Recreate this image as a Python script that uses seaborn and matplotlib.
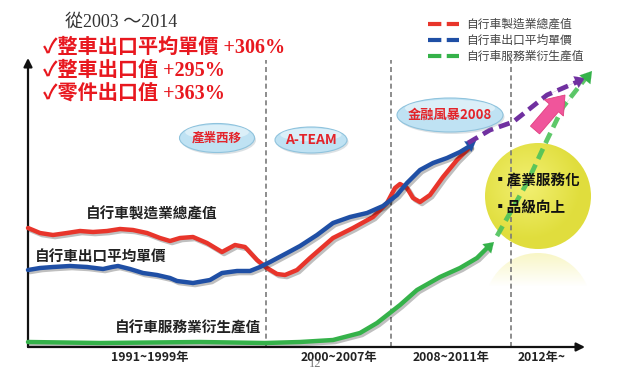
import numpy as np
import pandas as pd
import matplotlib
matplotlib.use("Agg")
import matplotlib.pyplot as plt
import matplotlib.patheffects as pe
from matplotlib.patches import Ellipse, Circle, FancyArrow
from matplotlib.lines import Line2D
import seaborn as sns

# ---------------- data (position along time axis, relative value) ----------------
mfg_x = [0, 12, 25, 39, 52, 65, 79, 92, 105, 119, 132, 142, 152, 165, 179, 194, 207, 217,
         229, 239, 249, 257, 269, 282, 305, 325, 345, 359, 367, 372, 379, 385, 392, 402,
         415, 429, 442]
mfg_y = [119, 114, 112, 114, 116, 115, 116, 118, 117, 114, 109, 106, 109, 110, 104, 95, 102, 100,
         87, 79, 73, 72, 77, 89, 109, 119, 130, 144, 159, 163, 159, 149, 145, 152,
         170, 187, 200]
price_x = [0, 12, 25, 42, 59, 75, 84, 90, 102, 115, 129, 142, 149, 165, 182, 194, 209, 222,
           232, 242, 259, 272, 289, 305, 322, 339, 355, 369, 379, 392, 405, 419, 432, 442]
price_y = [77, 79, 80, 81, 80, 78, 80, 81, 78, 74, 72, 69, 66, 64, 67, 74, 76, 76,
           80, 85, 94, 101, 112, 124, 130, 134, 141, 152, 164, 177, 184, 189, 195, 201]
svc_x = [0, 72, 172, 237, 272, 305, 332, 349, 372, 389, 412, 432, 449, 460]
svc_y = [5, 4, 5, 4, 5, 7, 14, 24, 42, 57, 70, 79, 89, 100]
# projected trends after 2012
svc_proj_x = [469, 499, 519, 535, 557]
svc_proj_y = [111, 164, 207, 240, 268]
mfg_proj_x = [440, 462, 485, 519, 549]
mfg_proj_y = [204, 217, 225, 252, 265]

period_bounds = [238, 363, 483]
period_labels = ["1991~1999年", "2000~2007年", "2008~2011年", "2012年~"]
period_centers = [122, 311, 423, 514]

series_names = ["自行車製造業總產值", "自行車出口平均單價", "自行車服務業衍生產值"]
series_colors = ["#e8352b", "#1f4fa5", "#35b24a"]

headline = "從2003 ～2014"
highlights = ["✓整車出口平均單價 +306%", "✓整車出口值 +295%", "✓零件出口值 +363%"]
bubbles = ["產業西移", "A-TEAM", "金融風暴2008"]
circle_lines = ["▪產業服務化", "▪品級向上"]

# ---------------- figure ----------------
sns.set_style("white")
plt.rcParams["font.family"] = ["Noto Sans CJK TC", "DejaVu Sans"]

fig = plt.figure(figsize=(6.18, 3.86), dpi=100)
ax = fig.add_axes([0, 0, 1, 1])
ax.set_xlim(-28, 590)
ax.set_ylim(-39, 347)
ax.axis("off")

shadow = [pe.SimpleLineShadow(offset=(1.5, -1.5), alpha=0.25, shadow_color="k"), pe.Normal()]

# yellow circle with gradient + reflection
cx, cy, r = 510, 151, 53
gx = np.linspace(-1, 1, 200)
GX, GY = np.meshgrid(gx, gx)
rad = np.clip(np.sqrt((GX + 0.2) ** 2 + (GY - 0.2) ** 2), 0, 1)
c_in = np.array([0.95, 0.94, 0.45])
c_out = np.array([0.88, 0.87, 0.24])
img = c_in[None, None, :] * (1 - rad[..., None]) + c_out[None, None, :] * rad[..., None]
circ = Circle((cx, cy), r, transform=ax.transData, facecolor="none", edgecolor="none")
ax.add_patch(circ)
im = ax.imshow(img, extent=[cx - r, cx + r, cy - r, cy + r], origin="lower",
               aspect="auto", zorder=1)
im.set_clip_path(circ)

ry = cy - 2 * r - 4
refl = np.ones((100, 10, 4))
refl[..., 0:3] = [0.95, 0.93, 0.55]
alpha = np.linspace(0.0, 0.55, 100)
alpha = np.clip((alpha - 0.2) / 0.35, 0, 1) * 0.5
refl[..., 3] = alpha[:, None]
rcirc = Circle((cx, ry), r, transform=ax.transData, facecolor="none", edgecolor="none")
ax.add_patch(rcirc)
im2 = ax.imshow(refl, extent=[cx - r, cx + r, ry, ry + r], origin="lower",
                aspect="auto", zorder=1)
im2.set_clip_path(rcirc)

# period boundaries
for b in period_bounds:
    ax.plot([b, b], [0, 287], color="#7a7a7a", lw=1.2, dashes=(3, 2), zorder=2)

# axes arrows
ax.annotate("", xy=(0, 289), xytext=(0, 0),
            arrowprops=dict(arrowstyle="-|>,head_length=0.5,head_width=0.25", color="#111", lw=1.6,
                            shrinkA=0, shrinkB=0), zorder=3)
ax.annotate("", xy=(557, 0), xytext=(0, 0),
            arrowprops=dict(arrowstyle="-|>,head_length=0.5,head_width=0.25", color="#111", lw=1.6,
                            shrinkA=0, shrinkB=0), zorder=3)

# curves
df_mfg = pd.DataFrame({"x": mfg_x, "y": mfg_y})
df_price = pd.DataFrame({"x": price_x, "y": price_y})
df_svc = pd.DataFrame({"x": svc_x, "y": svc_y})
for df, col in [(df_svc, series_colors[2]), (df_mfg, series_colors[0]), (df_price, series_colors[1])]:
    sns.lineplot(data=df, x="x", y="y", ax=ax, color=col, lw=3.2, estimator=None,
                 sort=False, legend=False, zorder=4)
    ln = ax.lines[-1]
    ln.set_path_effects(shadow)
    ln.set_solid_capstyle("round")
    ln.set_solid_joinstyle("round")

# arrow heads on solid curves
for xs, ys, col in [(price_x, price_y, series_colors[1]), (svc_x, svc_y, series_colors[2])]:
    ax.annotate("", xy=(xs[-1] + 6, ys[-1] + 5), xytext=(xs[-2], ys[-2]),
                arrowprops=dict(arrowstyle="-|>,head_length=0.7,head_width=0.45", color=col,
                                lw=0.1, shrinkA=0, shrinkB=0), zorder=5)

# projections (dashed)
df_mp = pd.DataFrame({"x": mfg_proj_x, "y": mfg_proj_y})
df_sp = pd.DataFrame({"x": svc_proj_x, "y": svc_proj_y})
sns.lineplot(data=df_mp, x="x", y="y", ax=ax, color="#7030a0", lw=3.4, estimator=None,
             sort=False, legend=False, zorder=5)
ax.lines[-1].set_dashes((2.4, 1.3))
sns.lineplot(data=df_sp, x="x", y="y", ax=ax, color="#4cc25a", lw=3.4, estimator=None,
             sort=False, legend=False, zorder=5, alpha=0.9)
ax.lines[-1].set_dashes((2.4, 1.3))
ax.annotate("", xy=(mfg_proj_x[-1] + 8, mfg_proj_y[-1] + 4), xytext=(mfg_proj_x[-2], mfg_proj_y[-2]),
            arrowprops=dict(arrowstyle="-|>,head_length=0.7,head_width=0.45", color="#7030a0",
                            lw=0.1, shrinkA=0, shrinkB=0), zorder=5)
ax.annotate("", xy=(svc_proj_x[-1] + 7, svc_proj_y[-1] + 8), xytext=(svc_proj_x[-2], svc_proj_y[-2]),
            arrowprops=dict(arrowstyle="-|>,head_length=0.8,head_width=0.5", color="#35b24a",
                            lw=0.1, shrinkA=0, shrinkB=0), zorder=6)

# pink up arrow
ax.add_patch(FancyArrow(507, 217, 30, 35, width=12, head_width=25, head_length=17,
                        length_includes_head=True, facecolor="#f0559b", edgecolor="#e0407f",
                        lw=0.6, zorder=6))

# bubbles
bub_pos = [(189, 209, 75, 29), (283, 207, 72, 26), (422, 232, 106, 34)]
bub_fs = [9, 10, 9.5]
for (bx, by, bw, bh), lab, fs in zip(bub_pos, bubbles, bub_fs):
    ax.add_patch(Ellipse((bx + 1.5, by - 2), bw, bh, facecolor="#9aa9b3", alpha=0.35,
                         edgecolor="none", zorder=6))
    ax.add_patch(Ellipse((bx, by), bw, bh, facecolor="#bfe2f3", edgecolor="#8fc3dd",
                         lw=0.8, zorder=7))
    ax.add_patch(Ellipse((bx, by + bh * 0.2), bw * 0.85, bh * 0.5, facecolor="white",
                         alpha=0.45, edgecolor="none", zorder=7))
    ax.text(bx, by, lab, ha="center", va="center", fontsize=fs, fontweight="bold",
            color="#e3242b", zorder=8)

# circle text
for i, t in enumerate(circle_lines):
    ax.text(465, 167 - 28 * i, t, ha="left", va="center", fontsize=10.5,
            fontweight="bold", color="#111", zorder=8)

# curve labels
ax.text(124, 134, series_names[0], ha="center", va="center", fontsize=10.5,
        fontweight="bold", color="#222", zorder=8)
ax.text(7, 91, series_names[1], ha="left", va="center", fontsize=10.5,
        fontweight="bold", color="#222", zorder=8)
ax.text(160, 20, series_names[2], ha="center", va="center", fontsize=10.5,
        fontweight="bold", color="#222", zorder=8)

# period labels
for cxl, lab in zip(period_centers, period_labels):
    ax.text(cxl, -11, lab, ha="center", va="center", fontsize=8.8, fontweight="bold",
            color="#222", zorder=8)
ax.text(287, -17, "12", ha="center", va="center", fontsize=9, color="#777",
        family=["Liberation Serif"], zorder=9)

# headline texts
ax.text(37, 325, headline, ha="left", va="center", fontsize=13, color="#333",
        family=["Liberation Serif", "Noto Sans CJK TC"], zorder=8)
for i, t in enumerate(highlights):
    ax.text(15, 299 - 23.5 * i, t, ha="left", va="center", fontsize=14.5, color="#e8181f",
            fontweight="bold", family=["Liberation Serif", "Noto Sans CJK TC", "DejaVu Sans"],
            zorder=8)

# legend
handles = [Line2D([0], [0], color=c, lw=3, dashes=(3.2, 1.3)) for c in series_colors]
leg = ax.legend(handles, series_names, loc="upper left", bbox_to_anchor=(422 / 618, 1 - 12 / 386),
                frameon=False, fontsize=8.5, handlelength=2.6, handletextpad=0.6,
                labelspacing=0.25, borderpad=0)
for t in leg.get_texts():
    t.set_color("#444")

fig.savefig("out.png", dpi=100)
